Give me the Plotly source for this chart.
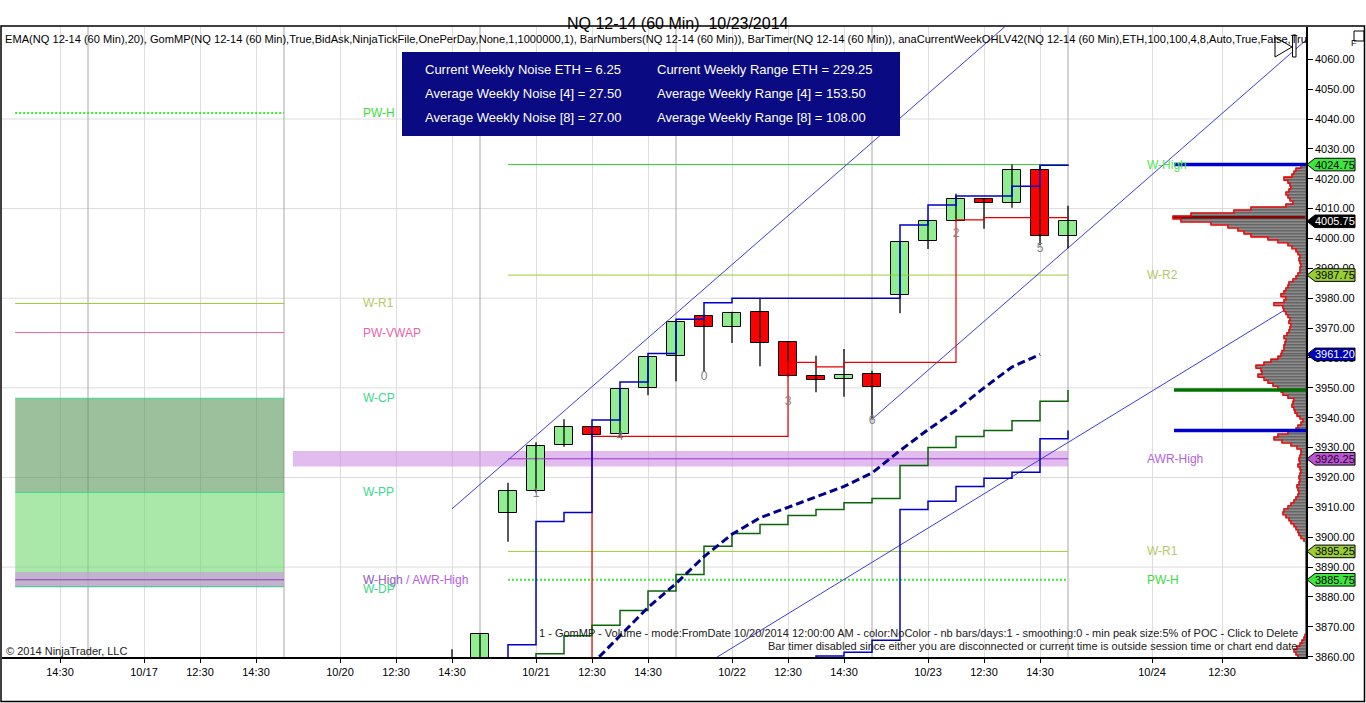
import plotly.graph_objects as go

FONT = "Liberation Sans, Arial, sans-serif"

# ---- values (x = 60 min bar slot, 0 = the "10/21" bar) ----
bar_idx = list(range(-3, 20))
bar_open = [3855, 3852, 3908, 3915.5, 3930.75, 3936.75, 3934.5, 3950, 3960.75, 3974,
            3970.25, 3975.25, 3965.25, 3954, 3953, 3954.75, 3981, 3999, 4006, 4013.25,
            4011.75, 4023, 4000.75]
bar_high = [3862.5, 3867.5, 3918.25, 3931.75, 3939.5, 3937.25, 3949.75, 3960.5, 3972.25, 3974.5,
            3975.5, 3980, 3965.5, 3960.75, 3963, 3955.75, 3999, 4006.25, 4015, 4013.5,
            4024.75, 4024.5, 4011]
bar_low = [3848, 3850, 3898.5, 3915, 3930.25, 3933.5, 3934, 3947.5, 3952.25, 3955.5,
           3965, 3957.25, 3953.75, 3948.5, 3947, 3939.5, 3975, 3996.5, 4005.75, 4003.25,
           4010.25, 3997.75, 3996.75]
bar_close = [3850, 3867.5, 3915.5, 3930.5, 3936.75, 3934.25, 3949.5, 3960.25, 3972, 3970.25,
             3975, 3965, 3954, 3952.75, 3954.25, 3950.25, 3998.75, 4006, 4013.25, 4011.75,
             4023, 4000.75, 4005.75]

ema_idx = list(range(1, 19))
ema_vals = [3849, 3857.5, 3867, 3876.5, 3884.5, 3893.5, 3901, 3906.5, 3910, 3913.5,
            3917, 3921.5, 3929, 3936, 3942.5, 3950, 3957, 3961.2]

green_idx = list(range(-1, 20))
green_vals = [3855, 3861, 3867, 3870.5, 3875.5, 3882, 3887.5, 3897, 3901.25, 3904.25,
              3907.25, 3909.25, 3911.5, 3913, 3924, 3930, 3933.75, 3935.75, 3939, 3945.5,
              3949.25]

blue_hi_idx = list(range(-2, 20))
blue_hi_vals = [3850, 3864, 3905.25, 3908.25, 3939.25, 3952, 3961.5, 3973, 3978.5, 3980,
                3980, 3980, 3980, 3980, 3980, 4004.5, 4011.25, 4014.25, 4014.25, 4017.5,
                4024.5, 4024.75]

blue_lo_idx = list(range(9, 20))
blue_lo_vals = [3850, 3860.25, 3861.5, 3865.5, 3909.25, 3912, 3917, 3919.75, 3921.75,
                3933, 3935.75]

red_idx = list(range(1, 20))
red_vals = [3850, 3933.75, 3933.75, 3933.75, 3933.75, 3933.75, 3933.75, 3933.75, 3958.5,
            3957, 3958.5, 3958.5, 3958.5, 3958.5, 4006.25, 4007, 4007, 4007, 4007]

# drawn trend channel anchors
chan_up_x, chan_up_y = [-3, 17], [3909.5, 4073.0]
chan_mid_x, chan_mid_y = [12, 28], [3939.5, 4070.5]
chan_low_x, chan_low_y = [6, 28], [3857.2, 3983.3]

# current week levels (right) and previous week levels (left)
week_names = ["W-High", "W-R2", "AWR-High", "W-R1", "PW-H"]
week_vals = [4024.75, 3987.75, 3926.25, 3895.25, 3885.75]
prev_names = ["PW-H", "W-R1", "PW-VWAP", "W-CP", "W-PP", "W-High / AWR-High", "W-DP"]
prev_vals = [4042.0, 3978.25, 3968.5, 3946.5, 3915.0, 3885.75, 3883.5]

bar_num_idx = [0, 3, 6, 9, 12, 15, 18]
bar_num_y = [3914.5, 3933.5, 3953.75, 3945.25, 3938.75, 4001.5, 3996.5]
bar_num_text = ["1", "4", "0", "3", "6", "2", "5"]

tick_pos = [-17, -14, -12, -10, -7, -5, -3, 0, 2, 4, 7, 9, 11, 14, 16, 18, 22, 24.5]
tick_text = ["14:30", "10/17", "12:30", "14:30", "10/20", "12:30", "14:30", "10/21", "12:30",
             "14:30", "10/22", "12:30", "14:30", "10/23", "12:30", "14:30", "10/24", "12:30"]
price_ticks = [3860, 3870, 3880, 3890, 3900, 3910, 3920, 3930, 3940, 3950, 3960,
               3970, 3980, 3990, 4000, 4010, 4020, 4030, 4040, 4050, 4060]
session_breaks = [-16, -9, -2, 5, 12, 19]
price_grid = [3890, 3920, 3950, 3980, 4010, 4040]

noise_lines = ["Current Weekly Noise ETH = 6.25", "Average Weekly Noise [4] = 27.50",
               "Average Weekly Noise [8] = 27.00"]
range_lines = ["Current Weekly Range ETH = 229.25", "Average Weekly Range [4] = 153.50",
               "Average Weekly Range [8] = 108.00"]

# volume profile, one row per point, 3860 .. 4024
vp_levels = list(range(3860, 4025))
vp_vol = [8, 10, 12, 9, 6, 4, 2, 1,
          0, 0, 0, 0, 0, 0, 0, 0, 0, 0, 0, 0, 0, 0, 0, 0,
          0, 0, 0, 0, 0, 0, 0, 0, 0, 0, 0, 0, 0, 0, 0,
          2, 5, 7, 8, 10, 12, 15, 17, 20, 23, 22,
          18, 15, 12, 10, 8, 7, 8, 9, 7, 6,
          7, 6, 5, 6, 8, 6, 7, 6, 5, 5,
          9, 15, 24, 32, 28, 18, 10, 8, 5, 3,
          6, 9, 11, 12, 14, 13, 12, 18, 23, 25,
          28, 33, 38, 42, 48, 44, 45, 50, 42, 35,
          28, 25, 24, 22, 22, 21, 20, 22, 19, 17,
          16, 15, 17, 16, 18, 20, 22, 23, 32, 22,
          20, 25, 22, 20, 18, 17, 13, 10, 8, 6,
          6, 5, 6, 7, 6, 8, 10, 14, 18, 28,
          38, 55, 62, 68, 78, 95, 125, 133, 115, 72,
          55, 20, 13, 16, 18, 20, 17, 15, 16, 18,
          22, 14, 12, 10, 5]

# ---- layout geometry (pixels of the 1366x703 page) ----
L, T, W, H = 2, 27, 1304, 630
X_RANGE = [(L - 536) / 28, (L + W - 536) / 28]
Y_RANGE = [3859.9, 4070.8]


def px_x(px):
    return (px - L) / W


def px_y(py):
    return (T + H - py) / H


fig = go.Figure()

# level lines (behind candles)
yg, orchid, teal, pink = "#9acd32", "#9932cc", "#3cd88c", "#e864a8"
week_styles = [dict(color="#32cd32", width=1), dict(color=yg, width=1), dict(color=orchid, width=1),
               dict(color=yg, width=1), dict(color="#33ee33", width=2, dash="2px,2px")]
for v, st in zip(week_vals, week_styles):
    fig.add_trace(go.Scatter(x=[-1, 19], y=[v, v], mode="lines", line=st, hoverinfo="skip"))
prev_styles = [dict(color="#33ee33", width=2, dash="2px,2px"), dict(color=yg, width=1),
               dict(color=pink, width=1), dict(color=teal, width=1), dict(color=teal, width=1),
               dict(color=orchid, width=1), dict(color=teal, width=1)]
for v, st in zip(prev_vals, prev_styles):
    fig.add_trace(go.Scatter(x=[-18.6, -9], y=[v, v], mode="lines", line=st, hoverinfo="skip"))

# channel lines
for cx, cy in [(chan_up_x, chan_up_y), (chan_mid_x, chan_mid_y), (chan_low_x, chan_low_y)]:
    fig.add_trace(go.Scatter(x=cx, y=cy, mode="lines", line=dict(color="#3c3cdc", width=1),
                             hoverinfo="skip"))

# candles: wicks then bodies
wx, wy = [], []
for i, h, lo in zip(bar_idx, bar_high, bar_low):
    wx += [i, i, None]
    wy += [lo, h, None]
fig.add_trace(go.Scatter(x=wx, y=wy, mode="lines", line=dict(color="black", width=1.3),
                         hoverinfo="skip"))
body_base = [min(o, c) for o, c in zip(bar_open, bar_close)]
body_len = [abs(c - o) for o, c in zip(bar_open, bar_close)]
body_col = ["#90ee90" if c >= o else "#ff0000" for o, c in zip(bar_open, bar_close)]
fig.add_trace(go.Bar(x=bar_idx, y=body_len, base=body_base, width=0.64,
                     marker=dict(color=body_col, line=dict(color="black", width=1)),
                     hoverinfo="skip"))

# indicator step lines
fig.add_trace(go.Scatter(x=red_idx, y=red_vals, mode="lines", line_shape="hv",
                         line=dict(color="#e60000", width=1.2), hoverinfo="skip"))
fig.add_trace(go.Scatter(x=green_idx, y=green_vals, mode="lines", line_shape="hv",
                         line=dict(color="#0a640a", width=1.5), hoverinfo="skip"))
fig.add_trace(go.Scatter(x=blue_hi_idx, y=blue_hi_vals, mode="lines", line_shape="hv",
                         line=dict(color="#0000c8", width=1.5), hoverinfo="skip"))
fig.add_trace(go.Scatter(x=blue_lo_idx, y=blue_lo_vals, mode="lines", line_shape="hv",
                         line=dict(color="#0000c8", width=1.5), hoverinfo="skip"))
fig.add_trace(go.Scatter(x=ema_idx, y=ema_vals, mode="lines",
                         line=dict(color="#00008b", width=3, dash="8px,4px"), hoverinfo="skip"))

fig.add_trace(go.Scatter(x=bar_num_idx, y=bar_num_y, mode="text", text=bar_num_text,
                         textfont=dict(family=FONT, size=12, color="#808080"), hoverinfo="skip"))

# volume profile on its own reversed axis, growing from the price scale
vp_col = ["#8b0000" if v == max(vp_vol) else "#8c8c8c" for v in vp_vol]
fig.add_trace(go.Bar(x=vp_vol, y=vp_levels, orientation="h", width=1, xaxis="x2", yaxis="y",
                     marker=dict(color=vp_col, line=dict(color="#3c3c3c", width=0.6)),
                     hoverinfo="skip"))
ox, oy = [], []
for lv, v in zip(vp_levels, vp_vol):
    if v == 0:
        ox.append(None)
        oy.append(None)
    else:
        ox += [v, v]
        oy += [lv - 0.5, lv + 0.5]
fig.add_trace(go.Scatter(x=ox, y=oy, mode="lines", xaxis="x2", yaxis="y",
                         line=dict(color="#ff0000", width=1.3), hoverinfo="skip"))

shapes = []
# previous week zone boxes and AWR bands
shapes.append(dict(type="rect", xref="x", yref="y", x0=-18.6, x1=-9, y0=prev_vals[4], y1=prev_vals[3],
                   fillcolor="rgba(88,150,88,0.6)", line_width=0, layer="between"))
shapes.append(dict(type="rect", xref="x", yref="y", x0=-18.6, x1=-9, y0=prev_vals[6], y1=prev_vals[4],
                   fillcolor="rgba(113,217,113,0.6)", line_width=0, layer="between"))
for x0, x1, v in [(-18.6, -9, prev_vals[5]), (-8.68, 19, week_vals[2])]:
    shapes.append(dict(type="rect", xref="x", yref="y", x0=x0, x1=x1, y0=v - 2.6, y1=v + 2.6,
                       fillcolor="rgba(207,143,227,0.6)", line_width=0, layer="between"))
for p in price_grid:
    shapes.append(dict(type="line", xref="paper", yref="y", x0=0, x1=1, y0=p, y1=p,
                       line=dict(color="#dcdcdc", width=1), layer="below"))
for s in session_breaks:
    shapes.append(dict(type="line", xref="x", yref="paper", x0=s, x1=s, y0=0, y1=1,
                       line=dict(color="#a8a8a8", width=1), layer="below"))

# last-value markers reaching into the profile
for v, c in [(blue_hi_vals[-1], "#0000cd"), (green_vals[-1], "#007000"), (blue_lo_vals[-1], "#0000cd")]:
    shapes.append(dict(type="line", xref="paper", yref="y", x0=px_x(1174), x1=1, y0=v, y1=v,
                       line=dict(color=c, width=3.5), layer="above"))

# info panel
shapes.append(dict(type="rect", xref="paper", yref="paper", x0=px_x(402), x1=px_x(900),
                   y0=px_y(136), y1=px_y(52), fillcolor="#0a0a82", line_width=0, layer="above"))

# price flags on the scale
flags = [(week_vals[0], "#3ce63c", "black"), (bar_close[-1], "black", "white"),
         (week_vals[1], yg, "black"), (ema_vals[-1], "#0000b4", "white"),
         (week_vals[2], "#ba55d3", "#200020"), (week_vals[3], yg, "black"),
         (week_vals[4], "#3ce63c", "black")]
hh = 6.3 / 2.987
annotations = []
for v, fc, tc in flags:
    xt, xn, xr = px_x(1307), px_x(1315), px_x(1355)
    path = (f"M {xt},{v} L {xn},{v + hh} L {xr},{v + hh} L {xr},{v - hh} "
            f"L {xn},{v - hh} Z")
    shapes.append(dict(type="path", xref="paper", yref="y", path=path, fillcolor=fc,
                       line=dict(color="black", width=1), layer="above"))
    annotations.append(dict(xref="paper", yref="y", x=px_x(1335), y=v, text=f"{v:.2f}",
                            showarrow=False, xanchor="center", yanchor="middle",
                            font=dict(family=FONT, size=11, color=tc)))

# little toolbar glyphs and frame
shapes.append(dict(type="path", xref="paper", yref="paper",
                   path=f"M {px_x(1275)},{px_y(37)} L {px_x(1292)},{px_y(47)} L {px_x(1275)},{px_y(57)} Z",
                   fillcolor="white", line=dict(color="black", width=1), layer="above"))
shapes.append(dict(type="rect", xref="paper", yref="paper", x0=px_x(1292.5), x1=px_x(1296),
                   y0=px_y(57), y1=px_y(35), fillcolor="white", line=dict(color="black", width=1),
                   layer="above"))
shapes.append(dict(type="rect", xref="paper", yref="paper", x0=px_x(1354), x1=px_x(1364),
                   y0=px_y(41), y1=px_y(31), fillcolor="white", line=dict(color="black", width=1),
                   layer="above"))
shapes.append(dict(type="rect", xref="paper", yref="paper", x0=px_x(1), x1=px_x(1364.5),
                   y0=px_y(701.5), y1=px_y(26), line=dict(color="black", width=1.5),
                   fillcolor="rgba(0,0,0,0)", layer="above"))

# text
annotations.append(dict(xref="paper", yref="paper", x=px_x(678), y=px_y(13),
                        text="NQ 12-14 (60 Min)\u00a0\u00a010/23/2014", showarrow=False,
                        font=dict(family=FONT, size=16, color="black")))
annotations.append(dict(xref="paper", yref="paper", x=px_x(1359), y=px_y(36), text="F",
                        showarrow=False, font=dict(family=FONT, size=9, color="black")))
header = ("EMA(NQ 12-14 (60 Min),20), GomMP(NQ 12-14 (60 Min),True,BidAsk,NinjaTickFile,OnePerDay,"
          "None,1,1000000,1), BarNumbers(NQ 12-14 (60 Min)), BarTimer(NQ 12-14 (60 Min)), "
          "anaCurrentWeekOHLV42(NQ 12-14 (60 Min),ETH,100,100,4,8,Auto,True,False,Tru")
annotations.append(dict(xref="paper", yref="paper", x=px_x(3), y=px_y(39), text=header,
                        showarrow=False, xanchor="left", yanchor="middle",
                        font=dict(family=FONT, size=11.1, color="black")))
for k in range(3):
    yy = px_y(69.5 + 24 * k)
    annotations.append(dict(xref="paper", yref="paper", x=px_x(423), y=yy, text=noise_lines[k],
                            showarrow=False, xanchor="left", yanchor="middle",
                            font=dict(family=FONT, size=13, color="white")))
    annotations.append(dict(xref="paper", yref="paper", x=px_x(655), y=yy, text=range_lines[k],
                            showarrow=False, xanchor="left", yanchor="middle",
                            font=dict(family=FONT, size=13, color="white")))
annotations.append(dict(xref="paper", yref="paper", x=px_x(4), y=px_y(651),
                        text="\u00a9 2014 NinjaTrader, LLC", showarrow=False, xanchor="left",
                        yanchor="middle", font=dict(family=FONT, size=11, color="#202020")))
annotations.append(dict(xref="paper", yref="paper", x=px_x(1300), y=px_y(633),
                        text="1 - GomMP - Volume - mode:FromDate 10/20/2014 12:00:00 AM - color:NoColor - "
                             "nb bars/days:1 - smoothing:0 - min peak size:5% of POC - Click to Delete",
                        showarrow=False, xanchor="right", yanchor="middle",
                        font=dict(family=FONT, size=11, color="#202020")))
annotations.append(dict(xref="paper", yref="paper", x=px_x(1300), y=px_y(646),
                        text="Bar timer disabled since either you are disconnected or current time is "
                             "outside session time or chart end date",
                        showarrow=False, xanchor="right", yanchor="middle",
                        font=dict(family=FONT, size=11, color="#202020")))

week_lab_col = ["#50e650", "#b4c864", "#b464dc", "#b4c864", "#3cdc3c"]
for n, v, c in zip(week_names, week_vals, week_lab_col):
    annotations.append(dict(xref="x", yref="y", x=21.75, y=v, text=n, showarrow=False,
                            xanchor="left", yanchor="middle", font=dict(family=FONT, size=12, color=c)))
prev_lab_col = ["#3cdc3c", "#b4c864", "#e864a8", "#3cd88c", "#3cd88c", "#b464dc", "#3cd88c"]
annotations.append(dict(xref="x", yref="y", x=-6.25, y=prev_vals[5], text="W-High", showarrow=False,
                        xanchor="left", yanchor="middle", font=dict(family=FONT, size=12, color="#7ce07c")))
for n, v, c in zip(prev_names, prev_vals, prev_lab_col):
    yv = v - 0.9 if n == "W-DP" else v
    annotations.append(dict(xref="x", yref="y", x=-6.25, y=yv, text=n, showarrow=False,
                            xanchor="left", yanchor="middle", font=dict(family=FONT, size=12, color=c)))

fig.update_layout(
    width=1366, height=703,
    margin=dict(l=L, r=1366 - L - W, t=T, b=703 - T - H, autoexpand=False),
    paper_bgcolor="white", plot_bgcolor="white",
    showlegend=False, template="none", barmode="overlay", bargap=0,
    font=dict(family=FONT, size=11, color="black"),
    xaxis=dict(range=X_RANGE, tickvals=tick_pos, ticktext=tick_text, showgrid=True,
               gridcolor="#dcdcdc", gridwidth=1, zeroline=False, showline=True, linecolor="black",
               linewidth=1.5, ticks="outside", ticklen=4, tickcolor="black", automargin=False,
               tickfont=dict(family=FONT, size=11, color="black"), fixedrange=True),
    xaxis2=dict(overlaying="x", range=[max(vp_vol) * W / 133, 0], showgrid=False, zeroline=False,
                showticklabels=False, showline=False, ticks="", automargin=False),
    yaxis=dict(range=Y_RANGE, side="right", tickvals=price_ticks, tickformat=".2f", showgrid=False,
               zeroline=False, showline=True, linecolor="black", linewidth=1.5, ticks="outside",
               ticklen=5, tickcolor="black", automargin=False,
               tickfont=dict(family=FONT, size=11, color="black")),
    shapes=shapes, annotations=annotations,
)

# the page's default body margin would shift the 1366x703 figure
fig.write_html("out.html", config={"displayModeBar": False},
               post_script="document.body.style.margin='0px';")
